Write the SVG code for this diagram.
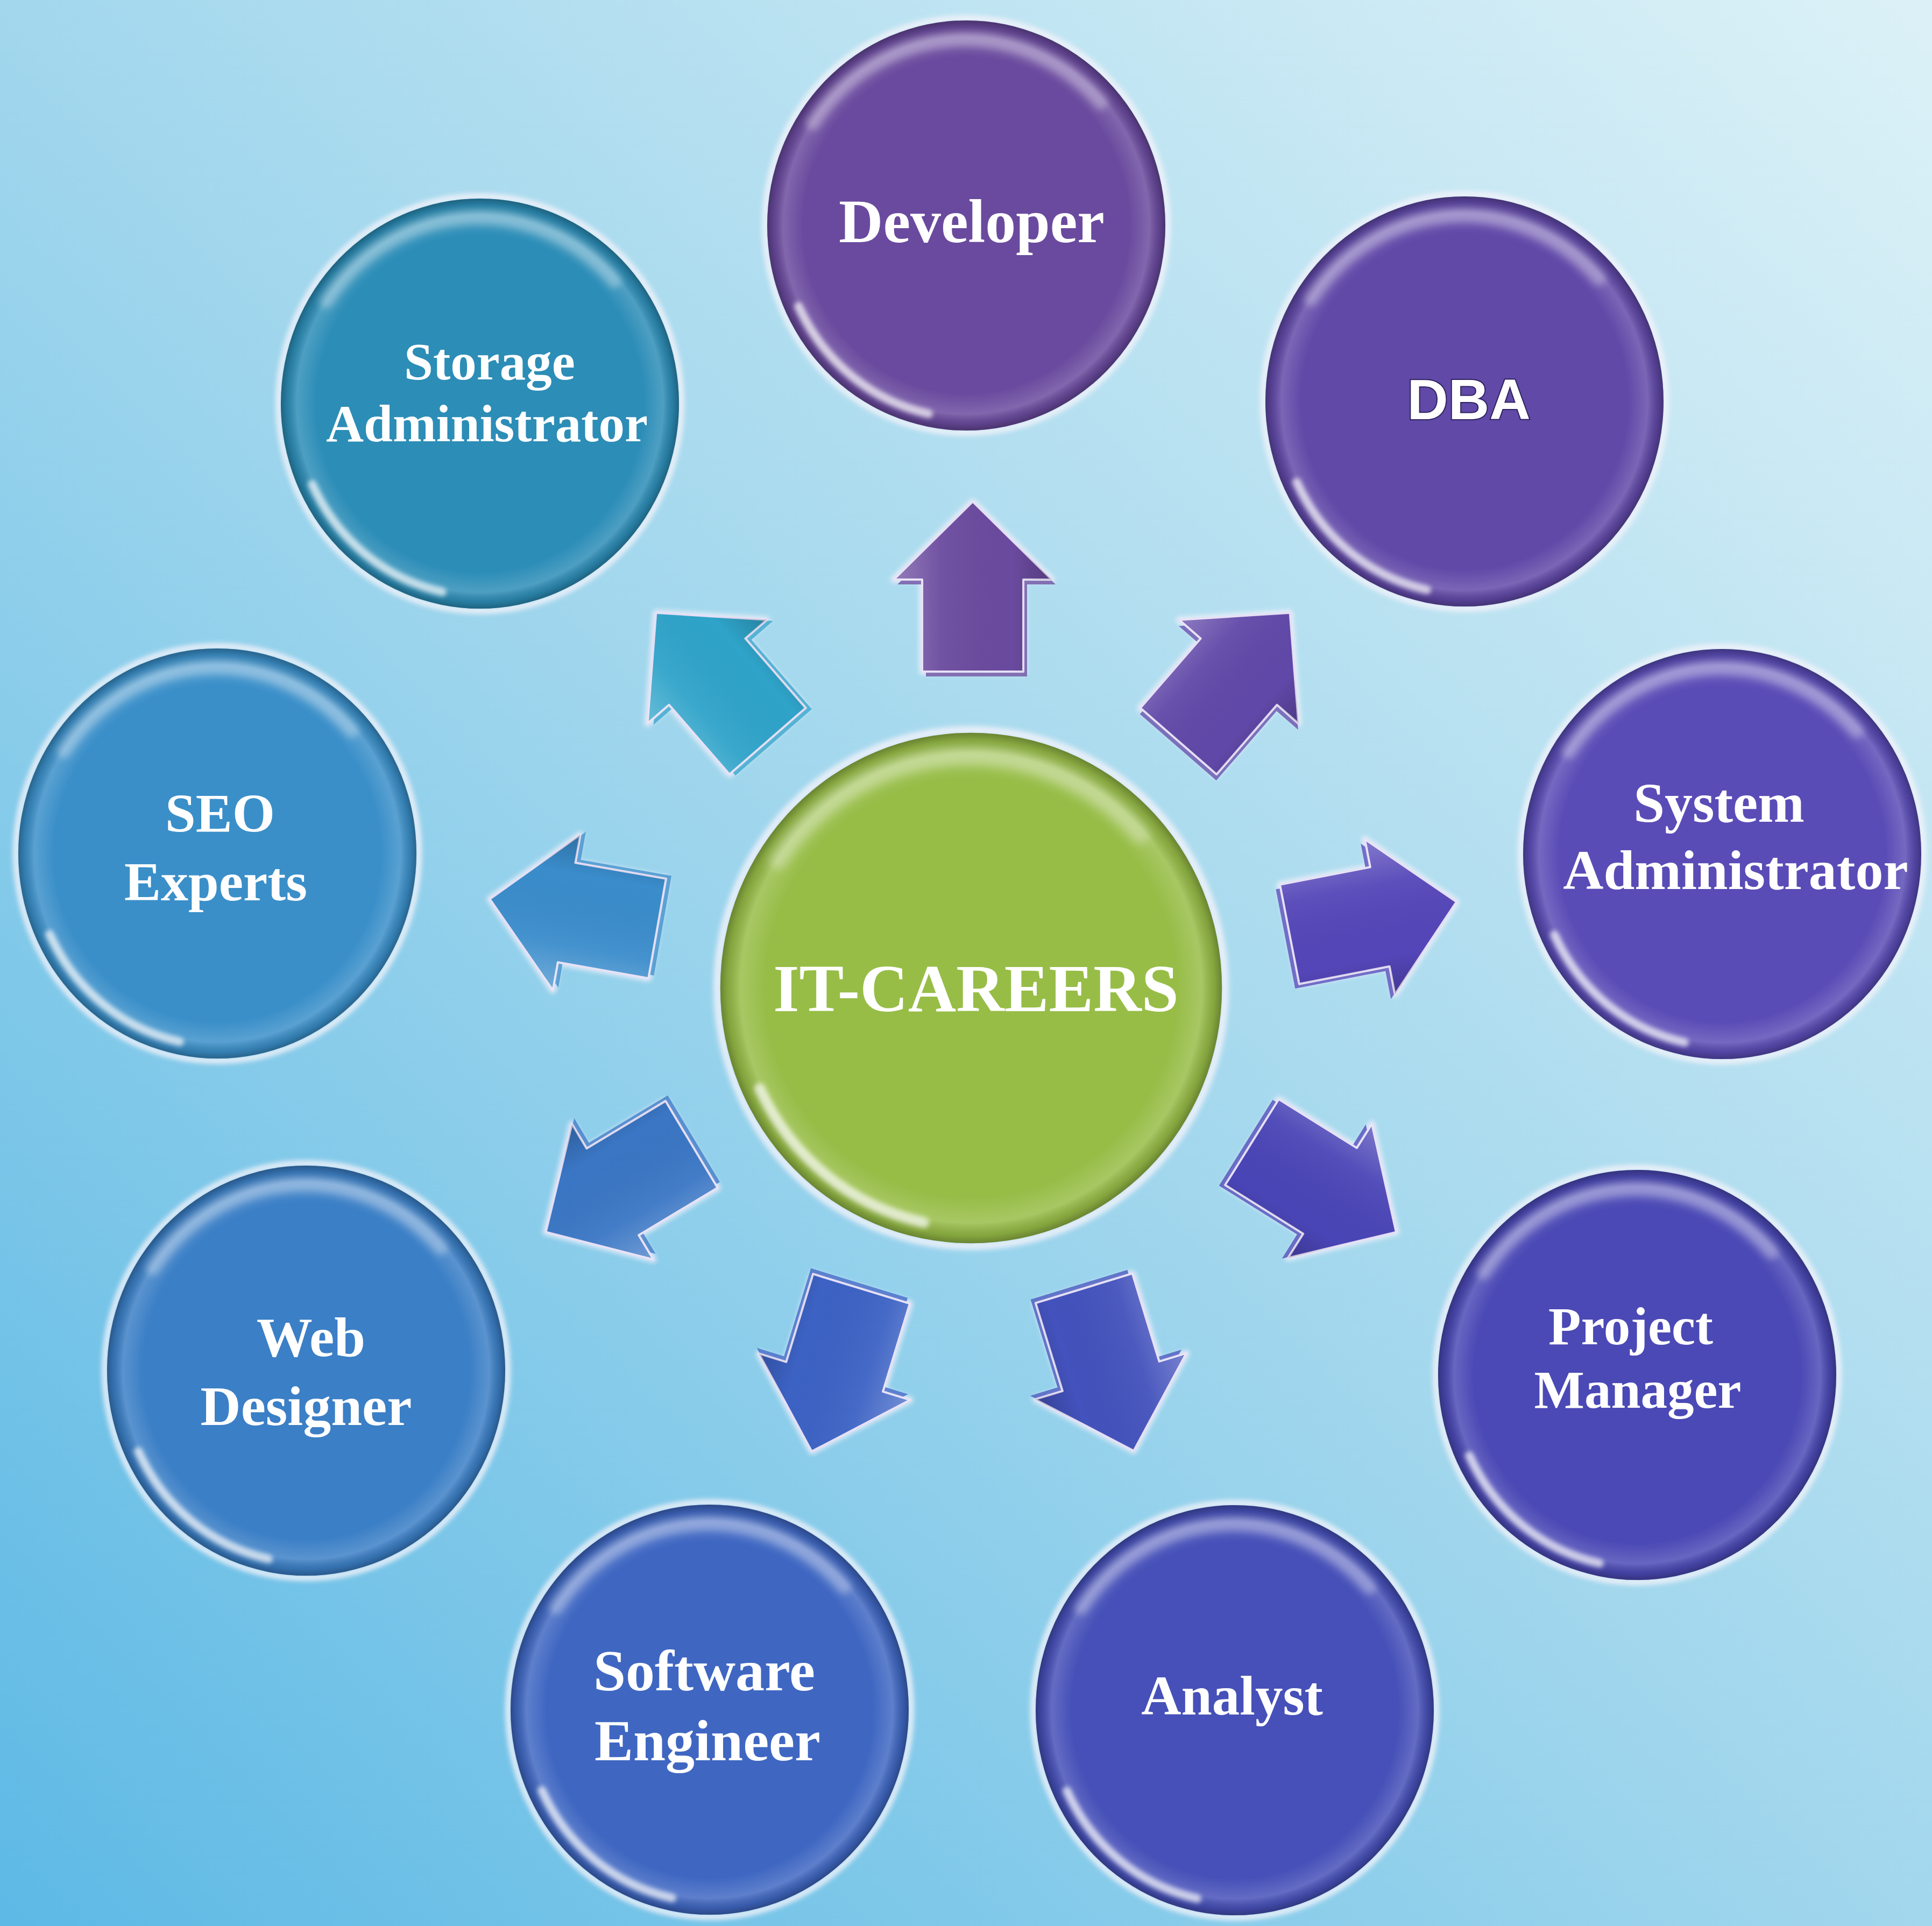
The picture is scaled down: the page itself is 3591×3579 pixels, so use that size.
<svg xmlns="http://www.w3.org/2000/svg" xmlns:xlink="http://www.w3.org/1999/xlink" width="3591" height="3579" viewBox="0 0 3591 3579">
  <style>
    .lbl { font-family: "Liberation Serif", "Times New Roman", serif; font-weight: bold; fill: #ffffff; text-anchor: middle; }
    .lbl-sans { font-family: "Liberation Sans", Arial, sans-serif; font-weight: bold; fill: #ffffff; text-anchor: middle; stroke: #2e2260; stroke-width: 4; paint-order: stroke; }
    .halo { fill: none; stroke: #f3f3fa; stroke-width: 12; opacity: 0.85; }
    .body { fill: currentColor; }
    .rim { fill: url(#rim); }
    .hl-top { fill: none; stroke: #ffffff; stroke-width: 26; stroke-linecap: round; opacity: 0.32; }
    .hl-bot { fill: none; stroke: #ffffff; stroke-width: 16; stroke-linecap: round; opacity: 0.7; }
    .arrow-glow { fill: none; stroke: #f2f0fa; stroke-width: 12; stroke-linejoin: round; opacity: 0.8; }
    .arrow-side { fill: currentColor; }
    .arrow-face { fill: currentColor; stroke: #e6e0f6; stroke-width: 4; stroke-linejoin: round; }
    .arrow-gloss { fill: url(#arrowGloss); }
  </style>
  <defs>
    <linearGradient id="bg" x1="1" y1="0" x2="0" y2="1">
      <stop offset="0" stop-color="#dcf1f7"/>
      <stop offset="0.5" stop-color="#a2d7ed"/>
      <stop offset="1" stop-color="#5db9e5"/>
    </linearGradient>
    <radialGradient id="rim" cx="0.5" cy="0.5" r="0.5">
      <stop offset="0" stop-color="#ffffff" stop-opacity="0"/>
      <stop offset="0.82" stop-color="#ffffff" stop-opacity="0"/>
      <stop offset="0.92" stop-color="#ffffff" stop-opacity="0.16"/>
      <stop offset="0.97" stop-color="#000000" stop-opacity="0.12"/>
      <stop offset="1" stop-color="#000000" stop-opacity="0.3"/>
    </radialGradient>
    <linearGradient id="arrowGloss" x1="0" y1="0" x2="1" y2="0">
      <stop offset="0" stop-color="#ffffff" stop-opacity="0.28"/>
      <stop offset="0.3" stop-color="#ffffff" stop-opacity="0.05"/>
      <stop offset="0.75" stop-color="#000000" stop-opacity="0"/>
      <stop offset="1" stop-color="#000000" stop-opacity="0.2"/>
    </linearGradient>
    <filter id="soft" x="-20%" y="-20%" width="140%" height="140%">
      <feGaussianBlur stdDeviation="4"/>
    </filter>
    <filter id="softer" x="-30%" y="-30%" width="160%" height="160%">
      <feGaussianBlur stdDeviation="7"/>
    </filter>
    <g id="bubble">
      <ellipse class="halo" rx="374" ry="385" filter="url(#soft)"/>
      <ellipse class="body" rx="370" ry="381"/>
      <ellipse class="rim" rx="370" ry="381"/>
      <path class="hl-top" d="M -285 -190 A 338 348 0 0 1 250 -228" filter="url(#softer)"/>
      <path class="hl-bot" d="M -312 150 A 348 358 0 0 0 -70 350" filter="url(#soft)"/>
    </g>
    <path id="arrowShape" d="M 0 -158 L 147 -13 L 94 -13 L 94 158 L -94 158 L -94 -13 L -147 -13 Z"/>
    <g id="arrow">
      <use href="#arrowShape" class="arrow-glow" filter="url(#soft)"/>
      <use href="#arrowShape" class="arrow-side" transform="translate(7,9)" opacity="0.75"/>
      <use href="#arrowShape" class="arrow-face"/>
      <use href="#arrowShape" class="arrow-gloss"/>
    </g>
  </defs>

  <rect id="background" x="0" y="0" width="3591" height="3579" fill="url(#bg)"/>

  <g id="connectors">
    <g id="arrow-developer" transform="translate(1808,1090)" style="color:#6a4a9e"><use href="#arrow"/></g>
    <g id="arrow-dba" transform="translate(2294,1258) rotate(41)" style="color:#6048a8"><use href="#arrow"/></g>
    <g id="arrow-sysadmin" transform="translate(2552,1706) rotate(79)" style="color:#5446b8"><use href="#arrow"/></g>
    <g id="arrow-pm" transform="translate(2461,2206) rotate(122)" style="color:#4a45b6"><use href="#arrow"/></g>
    <g id="arrow-analyst" transform="translate(2061,2545) rotate(163)" style="color:#4352bc"><use href="#arrow"/></g>
    <g id="arrow-swe" transform="translate(1555,2546) rotate(197)" style="color:#3c62c4"><use href="#arrow"/></g>
    <g id="arrow-web" transform="translate(1150,2208) rotate(239)" style="color:#3a76c4"><use href="#arrow"/></g>
    <g id="arrow-seo" transform="translate(1066,1698) rotate(280)" style="color:#3a8ccb"><use href="#arrow"/></g>
    <g id="arrow-storage" transform="translate(1323,1258) rotate(-41)" style="color:#2fa3c9"><use href="#arrow"/></g>
  </g>

  <g id="node-developer">
    <use href="#bubble" transform="translate(1796,419)" style="color:#6a4a9e"/>
    <text class="lbl" x="1806" y="450" font-size="114">Developer</text>
  </g>
  <g id="node-dba">
    <use href="#bubble" transform="translate(2722,746)" style="color:#6149a8"/>
    <text class="lbl-sans" x="2730" y="779" font-size="106">DBA</text>
  </g>
  <g id="node-storage">
    <use href="#bubble" transform="translate(892,750)" style="color:#2c8db7"/>
    <text class="lbl" font-size="97"><tspan x="910" y="705">Storage</tspan><tspan x="905" y="820">Administrator</tspan></text>
  </g>
  <g id="node-seo">
    <use href="#bubble" transform="translate(404,1586)" style="color:#3a8fc9"/>
    <text class="lbl" font-size="102"><tspan x="409" y="1546">SEO</tspan><tspan x="401" y="1673">Experts</tspan></text>
  </g>
  <g id="node-sysadmin">
    <use href="#bubble" transform="translate(3201,1587)" style="color:#5a4cb6"/>
    <text class="lbl" font-size="104"><tspan x="3195" y="1527">System</tspan><tspan x="3226" y="1652">Administrator</tspan></text>
  </g>
  <g id="node-center">
    <use href="#bubble" transform="translate(1805,1836) scale(1.26,1.245)" style="color:#97bd47"/>
    <text class="lbl" x="1814" y="1879" font-size="124">IT-CAREERS</text>
  </g>
  <g id="node-web">
    <use href="#bubble" transform="translate(569,2547)" style="color:#3b7fc6"/>
    <text class="lbl" font-size="104"><tspan x="578" y="2520">Web</tspan><tspan x="569" y="2648">Designer</tspan></text>
  </g>
  <g id="node-pm">
    <use href="#bubble" transform="translate(3043,2555)" style="color:#4b49b5"/>
    <text class="lbl" font-size="99"><tspan x="3031" y="2498">Project</tspan><tspan x="3044" y="2616">Manager</tspan></text>
  </g>
  <g id="node-swe">
    <use href="#bubble" transform="translate(1319,3177)" style="color:#3f67c2"/>
    <text class="lbl" font-size="108"><tspan x="1309" y="3141">Software</tspan><tspan x="1315" y="3271">Engineer</tspan></text>
  </g>
  <g id="node-analyst">
    <use href="#bubble" transform="translate(2295,3178)" style="color:#4650b8"/>
    <text class="lbl" x="2290" y="3186" font-size="103">Analyst</text>
  </g>
</svg>
